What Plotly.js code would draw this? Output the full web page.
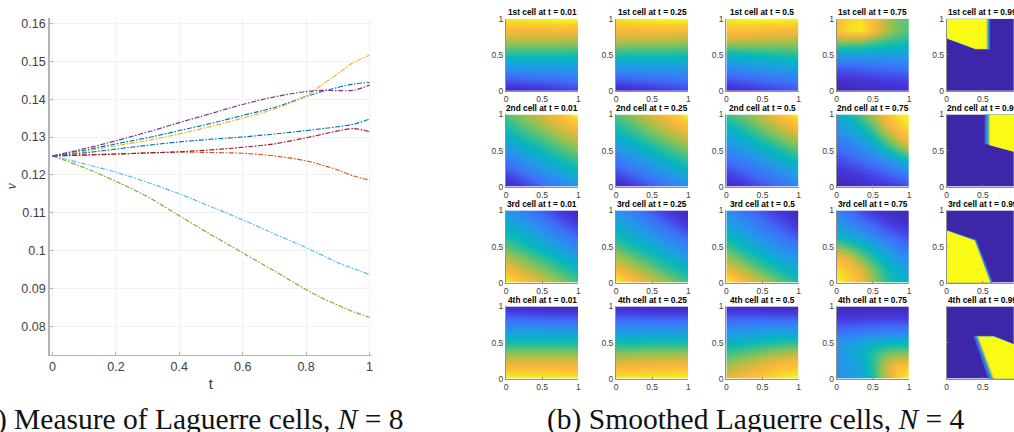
<!DOCTYPE html>
<html><head><meta charset="utf-8">
<script src="https://cdn.plot.ly/plotly-3.0.1.min.js"></script>
<style>html,body{margin:0;padding:0;background:#fff;overflow:hidden}#chart{width:1014px;height:432px}</style>
</head><body><div id="chart"></div>
<script>
// ---------- left panel: measure of Laguerre cells ----------
const tValues = [0,0.1,0.2,0.3,0.4,0.5,0.6,0.7,0.8,0.85,0.9,0.95,1];
const blueUpper = [.125,.1265,.1282,.1298,.1317,.1336,.1357,.1378,.1407,.1420,.1431,.1440,.1444];
const orange    = [.125,.1253,.1255,.1258,.1260,.1259,.1257,.1250,.1237,.1226,.1213,.1197,.1186];
const yellow    = [.125,.1262,.1277,.1291,.1308,.1328,.1350,.1374,.1409,.1438,.1467,.1497,.1516];
const purple    = [.125,.1269,.1290,.1313,.1338,.1362,.1386,.1406,.1420,.1423,.14225,.14235,.1437];
const green     = [.125,.1219,.1183,.1142,.1092,.1042,.0994,.0946,.0897,.0875,.0856,.0838,.0824];
const lightBlue = [.125,.1229,.1207,.1180,.1150,.1116,.1081,.1044,.1008,.0988,.0968,.0952,.0937];
const darkRed   = [.125,.1252,.1255,.1258,.1261,.1266,.1273,.1282,.1298,.1307,.1316,.1322,.1314];
const blueLower = [.125,.1258,.1268,.1278,.1287,.1294,.1300,.1308,.1317,.1322,.1327,.1334,.1347];
const lineSeries = [blueUpper,orange,yellow,purple,green,lightBlue,darkRed,blueLower];
const lineColors = ['#0072BD','#D95319','#EDB120','#7E2F8E','#77AC30','#4DBEEE','#A2142F','#0072BD'];
const xTickVals = [0,0.2,0.4,0.6,0.8,1];
const xTickText = ['0','0.2','0.4','0.6','0.8','1'];
const yTickVals = [0.08,0.09,0.1,0.11,0.12,0.13,0.14,0.15,0.16];
const yTickText = ['0.08','0.09','0.1','0.11','0.12','0.13','0.14','0.15','0.16'];

// ---------- right panel: smoothed Laguerre cells (rows run y = 0 to 1) ----------
const rowNames = ['1st','2nd','3rd','4th'];
const timeNames = ['0.01','0.25','0.5','0.75','0.99'];
const nodes5 = [0,0.25,0.5,0.75,1];
const nodes7 = [0,1/6,1/3,0.5,2/3,5/6,1];
const c1t01 = [[.02,.04,.06,.09,.12],[.25,.26,.27,.28,.29],[.49,.49,.49,.49,.49],[.76,.75,.75,.75,.74],[.97,.98,.99,1,1]];
const c1t25 = [[.02,.05,.07,.10,.13],[.25,.26,.27,.28,.28],[.50,.49,.49,.49,.48],[.77,.76,.76,.75,.75],[.96,.98,.99,1,1]];
const c1t50 = [[.03,.06,.09,.12,.15],[.22,.25,.27,.29,.31],[.44,.46,.48,.50,.52],[.80,.79,.77,.76,.74],[.97,1,1,1,.98]];
const c2t01 = [[.02,.10,.18,.25,.32],[.17,.25,.33,.40,.47],[.31,.39,.47,.55,.63],[.45,.54,.62,.71,.80],[.58,.67,.76,.88,1]];
const c2t25 = [[.02,.09,.16,.23,.30],[.17,.24,.31,.38,.46],[.31,.38,.46,.54,.62],[.45,.53,.62,.71,.80],[.58,.67,.77,.88,1]];
const c2t50 = [[.03,.08,.14,.20,.26],[.15,.20,.26,.33,.41],[.27,.33,.41,.49,.58],[.40,.48,.58,.68,.79],[.54,.63,.74,.87,1]];
const c3t01 = [[1,.87,.76,.66,.56],[.78,.68,.59,.50,.42],[.58,.50,.42,.34,.27],[.44,.37,.29,.20,.13],[.33,.25,.17,.09,.02]];
const c3t25 = [[1,.87,.75,.65,.55],[.77,.67,.57,.48,.40],[.57,.48,.41,.33,.26],[.43,.35,.27,.19,.12],[.31,.24,.16,.08,.02]];
const c3t50 = [[1,.85,.72,.60,.50],[.75,.63,.52,.43,.36],[.55,.45,.36,.29,.23],[.40,.32,.24,.18,.10],[.29,.22,.15,.08,.02]];
const c4t01 = [[1,1,.99,.99,.98],[.76,.76,.76,.76,.76],[.49,.49,.49,.49,.49],[.26,.26,.26,.25,.25],[.05,.04,.03,.02,.02]];
const c4t25 = [[.98,.99,.99,1,1],[.75,.76,.77,.77,.78],[.48,.48,.49,.49,.49],[.25,.25,.25,.25,.25],[.05,.04,.03,.02,.02]];
const c4t50 = [[.80,.87,.93,.98,1],[.62,.68,.74,.80,.84],[.44,.46,.49,.51,.53],[.24,.25,.26,.26,.26],[.05,.04,.03,.02,.02]];
const c1t75 = [[.02,.02,.03,.03,.04,.05,.06],[.07,.08,.09,.10,.11,.12,.13],[.18,.18,.19,.20,.21,.22,.23],[.34,.35,.35,.35,.35,.35,.34],[.62,.62,.60,.55,.52,.50,.48],[.88,.95,.97,.85,.72,.62,.57],[.86,.93,.96,.86,.72,.62,.58]];
const c2t75 = [[.02,.03,.04,.06,.08,.10,.13],[.06,.08,.10,.13,.16,.20,.24],[.12,.15,.18,.22,.27,.34,.42],[.19,.22,.27,.33,.43,.55,.66],[.26,.30,.36,.46,.60,.75,.86],[.33,.38,.46,.58,.75,.88,.96],[.40,.48,.58,.70,.85,.95,1]];
const c3t75 = [[1,.93,.84,.68,.54,.46,.41],[.95,.88,.78,.63,.50,.42,.36],[.85,.78,.64,.52,.42,.34,.28],[.63,.56,.48,.40,.32,.25,.20],[.42,.38,.33,.26,.20,.16,.12],[.33,.27,.22,.17,.12,.08,.05],[.27,.20,.14,.09,.05,.03,.02]];
const c4t75 = [[.30,.33,.38,.50,.70,.90,1],[.30,.33,.38,.52,.72,.86,.90],[.33,.37,.42,.52,.62,.66,.66],[.32,.34,.38,.42,.44,.45,.45],[.20,.21,.22,.23,.24,.24,.24],[.10,.10,.11,.11,.11,.11,.11],[.03,.03,.02,.02,.02,.02,.02]];
const flatCell = [[0,0],[0,0]];
const gridCells = [
  [c1t01,c1t25,c1t50,c1t75,flatCell],
  [c2t01,c2t25,c2t50,c2t75,flatCell],
  [c3t01,c3t25,c3t50,c3t75,flatCell],
  [c4t01,c4t25,c4t50,c4t75,flatCell]
];
// t = 0.99 regions: outer to inner band of each cell's sharp edge, as [x, y] vertices
const bandColors = ['#3f62e8','#1fa8c8','#e8c050','#f9fb15'];
const c1Bands = [
  [[0,1],[.60,1],[.60,.572],[.40,.572],[0,.722]],
  [[0,1],[.585,1],[.585,.576],[.40,.576],[0,.725]],
  [[0,1],[.565,1],[.565,.58],[.40,.58],[0,.728]],
  [[0,1],[.55,1],[.55,.585],[.40,.585],[0,.73]]];
const c2Bands = [
  [[.525,1],[1,1],[1,.47],[.525,.595]],
  [[.55,1],[1,1],[1,.468],[.55,.59]],
  [[.58,1],[1,1],[1,.465],[.58,.58]],
  [[.60,1],[1,1],[1,.465],[.60,.575]]];
const c3Bands = [
  [[0,0],[0,.73],[.41,.595],[.64,0]],
  [[0,0],[0,.725],[.40,.59],[.625,0]],
  [[0,0],[0,.722],[.39,.585],[.61,0]],
  [[0,0],[0,.72],[.385,.58],[.60,0]]];
const c4Bands = [
  [[.37,.595],[.65,.595],[1,.455],[1,0],[.575,0]],
  [[.40,.59],[.65,.59],[1,.45],[1,0],[.605,0]],
  [[.42,.585],[.65,.585],[1,.447],[1,0],[.635,0]],
  [[.44,.58],[.65,.58],[1,.445],[1,0],[.66,0]]];
const sharpCells = [c1Bands,c2Bands,c3Bands,c4Bands];
const cellTicks = [0,0.5,1];
const cellTickText = ['0','0.5','1'];

// ---------- styling ----------
const W = 1014, H = 432;
const parula = [[0,'#3e26a8'],[.1,'#4639e0'],[.2,'#3f6ef8'],[.3,'#2a8ff0'],[.38,'#17a6d8'],[.46,'#07b8bc'],[.55,'#3fc08a'],[.65,'#8fc256'],[.75,'#d2b93f'],[.85,'#feb83c'],[.93,'#f6d52a'],[1,'#f9fb15']];
const cellLefts = [506,616,726.3,836.7,946.7];
const cellTops = [18.7,114.4,210.4,306.4];
const cellSize = 72.3;
const sans = '"Liberation Sans", Arial, sans-serif';
const serif = '"Liberation Serif", serif';
const pxX = p => p / W, pxY = p => 1 - p / H;

const traces = [], annotations = [];
const layout = {
  width: W, height: H, margin: {l:0,r:0,t:0,b:0}, showlegend: false,
  paper_bgcolor: '#fff', plot_bgcolor: '#fff',
  xaxis: {domain:[pxX(49.5),pxX(372)], range:[-0.0095,1.0079], tickvals:xTickVals, ticktext:xTickText,
    showgrid:true, gridcolor:'#f1f1f1', gridwidth:1, zeroline:false, showline:true, linecolor:'#b4b4b4', linewidth:1.3,
    ticks:'inside', ticklen:3, tickcolor:'#b4b4b4', tickwidth:1,
    tickfont:{family:sans,size:12.5,color:'#404040'},
    title:{text:'t', font:{family:sans,size:14.5,color:'#303030'}, standoff:5}, anchor:'y'},
  yaxis: {domain:[pxY(355),pxY(18)], range:[0.07242,0.16143], tickvals:yTickVals, ticktext:yTickText,
    showgrid:true, gridcolor:'#f1f1f1', gridwidth:1, zeroline:false, showline:true, linecolor:'#b4b4b4', linewidth:1.3,
    ticks:'inside', ticklen:3, tickcolor:'#b4b4b4', tickwidth:1,
    tickfont:{family:sans,size:12.5,color:'#404040'},
    title:{text:'<i>ν</i>', font:{family:serif,size:14,color:'#303030'}, standoff:1}, anchor:'x'},
  annotations
};

lineSeries.forEach((ys,i) => traces.push({
  type:'scatter', mode:'lines', x:tValues, y:ys, xaxis:'x', yaxis:'y', hoverinfo:'skip',
  line:{color:lineColors[i], width:1.15, dash:'5px,1.6px,1.6px,1.6px', shape:'spline', smoothing:1}
}));

rowNames.forEach((rowName,r) => timeNames.forEach((tName,c) => {
  const n = r*5 + c + 2, xa = 'x'+n, ya = 'y'+n;
  const left = cellLefts[c], top = cellTops[r];
  const clipped = c === 4;
  const right = Math.min(left + cellSize, W);
  layout['xaxis'+n] = {domain:[pxX(left),pxX(right)], range:[0,(right-left)/cellSize], anchor:ya,
    tickvals:cellTicks, ticktext:cellTickText, showgrid:false, zeroline:false, showline:true, linecolor:'#909090', linewidth:1,
    ticks:'inside', ticklen:1.5, tickcolor:'#909090', tickfont:{family:sans,size:8.5,color:'#404040'}};
  layout['yaxis'+n] = {domain:[pxY(top+cellSize),pxY(top)], range:[0,1], anchor:xa,
    tickvals:cellTicks, ticktext:cellTickText, showgrid:false, zeroline:false, showline:true, linecolor:'#909090', linewidth:1,
    ticks:'inside', ticklen:1.5, tickcolor:'#909090', showticklabels: !(r===3 && c===4),
    tickfont:{family:sans,size:8.5,color:'#404040'}};
  const z = gridCells[r][c];
  const nodes = z.length === 7 ? nodes7 : (z.length === 5 ? nodes5 : cellTicks.filter(v=>v!==0.5));
  traces.push({type:'heatmap', x:nodes, y:nodes, z, xaxis:xa, yaxis:ya, zmin:0, zmax:1, colorscale:parula,
    showscale:false, zsmooth:'best', hoverinfo:'skip'});
  if (clipped) sharpCells[r].forEach((poly,b) => traces.push({
    type:'scatter', mode:'lines', x:poly.map(p=>p[0]), y:poly.map(p=>p[1]), xaxis:xa, yaxis:ya,
    fill:'toself', fillcolor:bandColors[b], line:{width:0,color:bandColors[b]}, hoverinfo:'skip'}));
  annotations.push({xref:'paper', yref:'paper', x:pxX(left+cellSize/2), y:pxY(top-0.2), xanchor:'center', yanchor:'bottom',
    showarrow:false, borderpad:0, text:'<b>'+rowName+' cell at t = '+tName+'</b>',
    font:{family:sans,size:8.3,color:'#000'}});
}));

annotations.push({xref:'paper', yref:'paper', x:pxX(405), y:pxY(419), xanchor:'right', yanchor:'middle', showarrow:false,
  text:'(a) Measure of Laguerre cells, <i>N</i> = 8', font:{family:serif,size:29.5,color:'#111'}});
annotations.push({xref:'paper', yref:'paper', x:pxX(966), y:pxY(419), xanchor:'right', yanchor:'middle', showarrow:false,
  text:'(b) Smoothed Laguerre cells, <i>N</i> = 4', font:{family:serif,size:29.5,color:'#111'}});

Plotly.newPlot('chart', traces, layout, {displayModeBar:false, staticPlot:true});
</script></body></html>
